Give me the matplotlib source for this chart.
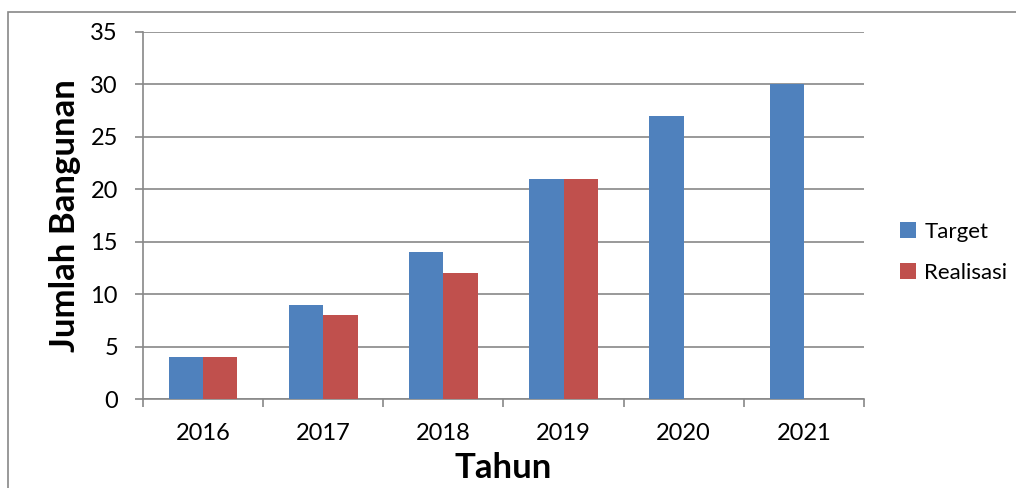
import numpy as np
import matplotlib.pyplot as plt
from matplotlib.patches import Rectangle

# Data
tahun = ["2016", "2017", "2018", "2019", "2020", "2021"]
target = [4, 9, 14, 21, 27, 30]
realisasi = [4, 8, 12, 21, 0, 0]
y_ticks = [0, 5, 10, 15, 20, 25, 30, 35]

plt.rcParams['font.family'] = ['Lato', 'DejaVu Sans']

fig = plt.figure(figsize=(10.16, 4.88), dpi=100)
ax = fig.add_axes([143 / 1016, 1 - 399 / 488, (864 - 143) / 1016, (399 - 32) / 488])

# bingkai luar chart
fig.patches.append(Rectangle((8 / 1016, -0.05), 1.1, 1 - 12 / 488 + 0.05,
                             transform=fig.transFigure, fill=False,
                             edgecolor="#888888", linewidth=1.2))

x = np.arange(len(tahun))
w = 1 / 3.5
ax.bar(x - w / 2, target, w, color="#4F81BD", label="Target", zorder=3)
ax.bar(x + w / 2, realisasi, w, color="#C0504D", label="Realisasi", zorder=3)

ax.set_xlim(-0.5, len(tahun) - 0.5)
ax.set_ylim(0, 35)
ax.set_yticks(y_ticks)
ax.set_xticks(x)
ax.set_xticklabels(tahun)
ax.set_xticks(np.arange(-0.5, len(tahun)), minor=True)

ax.grid(axis="y", color="#888888", linewidth=1.2, zorder=0)
for s in ["top", "right"]:
    ax.spines[s].set_visible(False)
for s in ["left", "bottom"]:
    ax.spines[s].set_color("#888888")
    ax.spines[s].set_linewidth(1.2)

ax.tick_params(axis="y", length=6, width=1.2, color="#888888", labelsize=17, pad=12)
ax.tick_params(axis="x", which="major", length=0, labelsize=17, pad=17)
ax.tick_params(axis="x", which="minor", length=6, width=1.2, color="#888888")

ax.set_xlabel("Tahun", fontsize=25, fontweight="bold", labelpad=6)
ax.set_ylabel("Jumlah Bangunan", fontsize=25, fontweight="bold", labelpad=7)

ax.legend(loc="center left", bbox_to_anchor=(1.05, 0.40), frameon=False,
          borderpad=0, borderaxespad=0,
          fontsize=16, handlelength=0.7, handleheight=0.7, handletextpad=0.4,
          labelspacing=0.95)

plt.savefig("out.png", dpi=100)
